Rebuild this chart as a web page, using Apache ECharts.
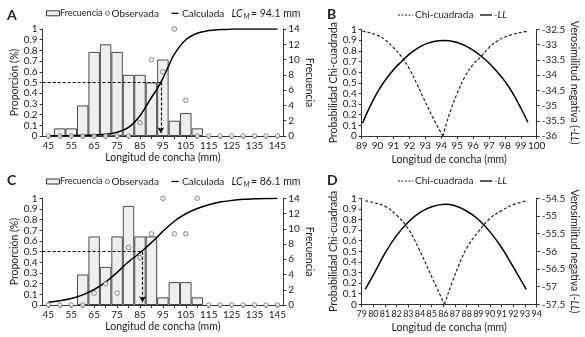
<!DOCTYPE html>
<html><head><meta charset="utf-8">
<script src="https://cdn.jsdelivr.net/npm/echarts@6/dist/echarts.min.js"></script>
<style>html,body{margin:0;padding:0;background:#fff}#c{width:585px;height:337px}</style>
</head><body><div id="c"></div>
<script>
// ---------- data ----------
const lengthBins = [45,50,55,60,65,70,75,80,85,90,95,100,105,110,115,120,125,130,135,140,145];
// Panel A
const freqA = [null,1,1,4,11,12,11,8,8,7,10,2,3,1,null,null,null,null,null,null,null];
const obsA  = [0,0,0,0,0,0,0,0,0.125,0.714,0.6,1,0.333,0,0,0,0,0,0,0,0];
const calcLenA = [45,50,55,60,65,70,75,80,85,90,92.5,95,97.5,100,105,110,115,120,125,130,135,140,145];
const calcA    = [0.002,0.003,0.004,0.006,0.01,0.017,0.035,0.08,0.19,0.36,0.44,0.54,0.655,0.765,0.9,0.96,0.985,0.995,0.999,1,1,1,1];
const lcA = 94.1;
// Panel C
const freqC = [null,null,null,4,9,5,9,13,9,9,1,3,3,1,null,null,null,null,null,null,null];
const obsC  = [0,0,0,0,0.111,0.2,0.111,0.538,0.444,0.667,1,0.667,0.667,1,0,0,0,0,0,0,0];
const calcLenC = [45,50,55,60,65,70,75,80,85,90,95,100,105,110,115,120,125,130,135,140,145];
const calcC    = [0.025,0.04,0.06,0.095,0.145,0.215,0.305,0.405,0.49,0.585,0.69,0.785,0.855,0.905,0.94,0.965,0.98,0.99,0.995,0.998,1.0];
const lcC = 86.1;
// Panel B
const lenB = [89.05,89.5,90,90.5,91,91.5,92,92.5,93,93.5,94.1,94.5,95,95.5,96,96.5,97,97.5,98,98.5,99,99.45];
const chiB = [0.985,0.97,0.945,0.9,0.83,0.745,0.63,0.48,0.32,0.165,0,0.2,0.4,0.56,0.67,0.745,0.83,0.89,0.93,0.955,0.972,0.985];
const llB  = [-35.58,-35.05,-34.55,-34.15,-33.82,-33.55,-33.31,-33.12,-32.98,-32.9,-32.86,-32.87,-32.93,-33.03,-33.18,-33.37,-33.6,-33.88,-34.2,-34.6,-35.08,-35.55];
// Panel D
const lenD = [79.3,80,81,82,83,84,85,86.1,87,88,89,90,91,92,93.1];
const chiD = [0.977,0.96,0.925,0.84,0.71,0.5,0.26,0,0.28,0.53,0.685,0.81,0.885,0.94,0.975];
const llD  = [-57.08,-56.67,-56.05,-55.55,-55.17,-54.9,-54.74,-54.67,-54.71,-54.86,-55.1,-55.45,-55.9,-56.45,-57.08];
// axis ranges (bin edges)
const binMin = 42.5, binMax = 147.5;

// ---------- helpers ----------
const F = 'Lato';
const TXT = '#222', AX = '#333';
const zip = (xs, ys) => xs.map((x, i) => [x, ys[i]]);
function splitAtMin(xs, ys) {
  let k = 0; ys.forEach((v, i) => { if (v < ys[k]) k = i; });
  const all = zip(xs, ys);
  return [all.slice(0, k + 1), all.slice(k)];
}
const baseAxis = (extra) => Object.assign({
  axisLine: {show: true, onZero: false, lineStyle: {color: AX, width: 1}},
  axisTick: {show: true, length: 3, lineStyle: {color: AX, width: 1}},
  axisLabel: {color: TXT, fontFamily: F, fontSize: 10, margin: 5},
  splitLine: {show: false},
  nameTextStyle: {color: TXT, fontFamily: F, fontSize: 10.5}
}, extra);

function txt(x, y, text, font, align) {
  return {type: 'text', x: x, y: y, silent: true,
    style: {text: text, font: font || ('10px ' + F), fill: TXT,
      textAlign: align || 'left', textVerticalAlign: 'middle',
      align: align || 'left', verticalAlign: 'middle'}};
}

const LW = 240.6;  // width of the length panels' plot area
const grids = [
  {left: 42.6, top: 29, width: LW, height: 107, containLabel: false, outerBoundsMode: 'none'},
  {left: 361.7, top: 29.5, width: 175, height: 106.5, containLabel: false, outerBoundsMode: 'none'},
  {left: 42.6, top: 198.3, width: LW, height: 106.7, containLabel: false, outerBoundsMode: 'none'},
  {left: 361.7, top: 198.3, width: 175, height: 106, containLabel: false, outerBoundsMode: 'none'}
];
const binPx = LW / lengthBins.length;

function catAxis(gi) {
  return baseAxis({type: 'category', gridIndex: gi, data: lengthBins.map(String), boundaryGap: true,
    axisTick: {show: true, length: 3, alignWithLabel: true, interval: 0, lineStyle: {color: AX}},
    axisLabel: {color: TXT, fontFamily: F, fontSize: 10, margin: 5, interval: 1},
    name: 'Longitud de concha (mm)', nameLocation: 'middle', nameGap: 16});
}
function hiddenVal(gi) {
  return {type: 'value', gridIndex: gi, min: binMin, max: binMax, show: false};
}
const rich = {
  n: {fontFamily: F, fontSize: 10.5, color: TXT},
  i: {fontFamily: F, fontSize: 10.5, color: TXT, fontStyle: 'italic'}
};

const xAxis = [
  catAxis(0), hiddenVal(0),
  baseAxis({type: 'value', gridIndex: 1, min: 89, max: 100, interval: 1,
    name: 'Longitud de concha (mm)', nameLocation: 'middle', nameGap: 18}),
  catAxis(2), hiddenVal(2),
  baseAxis({type: 'value', gridIndex: 3, min: 79, max: 94, interval: 1,
    axisLabel: {color: TXT, fontFamily: F, fontSize: 9, margin: 5},
    name: 'Longitud de concha (mm)', nameLocation: 'middle', nameGap: 18})
];
const propAxis = (gi) => baseAxis({type: 'value', gridIndex: gi, min: 0, max: 1, interval: 0.1,
  name: 'Proporción (%)', nameLocation: 'middle', nameGap: 22});
const freqAxis = (gi) => baseAxis({type: 'value', gridIndex: gi, position: 'right', min: 0, max: 14, interval: 2,
  name: 'Frecuencia', nameLocation: 'middle', nameRotate: -90, nameGap: 19});
const chiAxis = (gi) => baseAxis({type: 'value', gridIndex: gi, min: 0, max: 1, interval: 0.1,
  name: 'Probabilidad Chi-cuadrada', nameLocation: 'middle', nameGap: 20});
const llAxis = (gi, mn, mx) => baseAxis({type: 'value', gridIndex: gi, position: 'right', min: mn, max: mx, interval: 0.5,
  name: '{n|Verosimilitud negativa (}{i|-LL}{n|)}', nameLocation: 'middle', nameRotate: -90, nameGap: 28,
  nameTextStyle: {color: TXT, fontFamily: F, fontSize: 10.5, rich: rich}});

const yAxis = [
  propAxis(0), freqAxis(0),
  chiAxis(1), llAxis(1, -36, -32.5),
  propAxis(2), freqAxis(2),
  chiAxis(3), llAxis(3, -57.5, -54.5)
];

function lengthPanelSeries(xCat, xVal, yP, yF, freq, obs, cLen, cVal, lc) {
  const dash = {color: '#000', width: 1.2, type: [3, 2]};
  return [
    {type: 'bar', name: 'Frecuencia', xAxisIndex: xCat, yAxisIndex: yF, data: freq,
      barWidth: binPx, barCategoryGap: 0, barGap: 0, silent: true,
      itemStyle: {color: '#efefef', borderColor: '#4a4a4a', borderWidth: 1}, z: 2},
    {type: 'line', name: 'Calculada', xAxisIndex: xVal, yAxisIndex: yP, data: zip(cLen, cVal),
      smooth: 0.4, showSymbol: false, silent: true, z: 4,
      lineStyle: {color: '#000', width: 1.5},
      markLine: {silent: true, symbol: ['none', 'none'], animation: false, label: {show: false},
        lineStyle: dash,
        data: [
          [{coord: [binMin, 0.5]}, {coord: [lc, 0.5]}],
          [{coord: [lc, 0.5], symbol: 'none'}, {coord: [lc, 0.025], symbol: 'arrow', symbolSize: [5, 6]}]
        ]}},
    {type: 'scatter', name: 'Observada', xAxisIndex: xCat, yAxisIndex: yP, data: obs,
      symbol: 'circle', symbolSize: 4.5, silent: true, z: 5,
      itemStyle: {color: '#fff', borderColor: '#666', borderWidth: 1}}
  ];
}
function likePanelSeries(xi, yC, yL, len, chi, ll) {
  const [l, r] = splitAtMin(len, chi);
  const dashed = {color: '#222', width: 1.2, type: [3, 2]};
  return [
    {type: 'line', name: 'Chi-cuadrada', xAxisIndex: xi, yAxisIndex: yC, data: l, smooth: 0.4,
      showSymbol: false, silent: true, lineStyle: dashed},
    {type: 'line', name: 'Chi-cuadrada', xAxisIndex: xi, yAxisIndex: yC, data: r, smooth: 0.4,
      showSymbol: false, silent: true, lineStyle: dashed},
    {type: 'line', name: '-LL', xAxisIndex: xi, yAxisIndex: yL, data: zip(len, ll), smooth: 0.4,
      showSymbol: false, silent: true, lineStyle: {color: '#000', width: 1.5}}
  ];
}

const series = [].concat(
  lengthPanelSeries(0, 1, 0, 1, freqA, obsA, calcLenA, calcA, lcA),
  likePanelSeries(2, 2, 3, lenB, chiB, llB),
  lengthPanelSeries(3, 4, 4, 5, freqC, obsC, calcLenC, calcC, lcC),
  likePanelSeries(5, 6, 7, lenD, chiD, llD)
);

// ---------- legends / labels (graphic) ----------
function lengthLegend(cy, lc) {
  return [
    {type: 'rect', silent: true, shape: {x: 46.5, y: cy - 2.5, width: 13, height: 5},
      style: {fill: '#efefef', stroke: '#333', lineWidth: 1}},
    txt(60, cy, 'Frecuencia', '9px ' + F),
    {type: 'circle', silent: true, shape: {cx: 107.5, cy: cy, r: 2},
      style: {fill: '#fff', stroke: '#666', lineWidth: 1}},
    txt(111.5, cy, 'Observada'),
    {type: 'line', silent: true, shape: {x1: 171.5, y1: cy, x2: 178.5, y2: cy},
      style: {stroke: '#000', lineWidth: 1.3}},
    txt(182, cy, 'Calculada'),
    txt(231.5, cy, 'LC', 'italic 10.5px ' + F),
    txt(243.5, cy + 3, 'M', 'italic 7px ' + F),
    txt(251, cy, '= ' + lc + ' mm', '10.5px ' + F)
  ];
}
function likeLegend(cy) {
  return [
    {type: 'line', silent: true, shape: {x1: 398, y1: cy, x2: 413, y2: cy},
      style: {stroke: '#222', lineWidth: 1, lineDash: [2, 1.5]}},
    txt(415, cy, 'Chi-cuadrada'),
    {type: 'line', silent: true, shape: {x1: 480, y1: cy, x2: 492, y2: cy},
      style: {stroke: '#000', lineWidth: 1.3}},
    txt(494, cy, '-LL', 'italic 10px ' + F)
  ];
}
const graphic = [].concat(
  [txt(7, 15, 'A', 'bold 14px ' + F), txt(327, 14, 'B', 'bold 14px ' + F),
   txt(7, 180, 'C', 'bold 14px ' + F), txt(327, 180, 'D', 'bold 14px ' + F)],
  lengthLegend(13.3, lcA), likeLegend(15),
  lengthLegend(181.5, lcC), likeLegend(181)
);

const chart = echarts.init(document.getElementById('c'), null, {renderer: 'canvas'});
chart.setOption({
  animation: false,
  backgroundColor: '#fff',
  textStyle: {fontFamily: F},
  grid: grids, xAxis: xAxis, yAxis: yAxis, series: series, graphic: graphic
});
</script></body></html>
